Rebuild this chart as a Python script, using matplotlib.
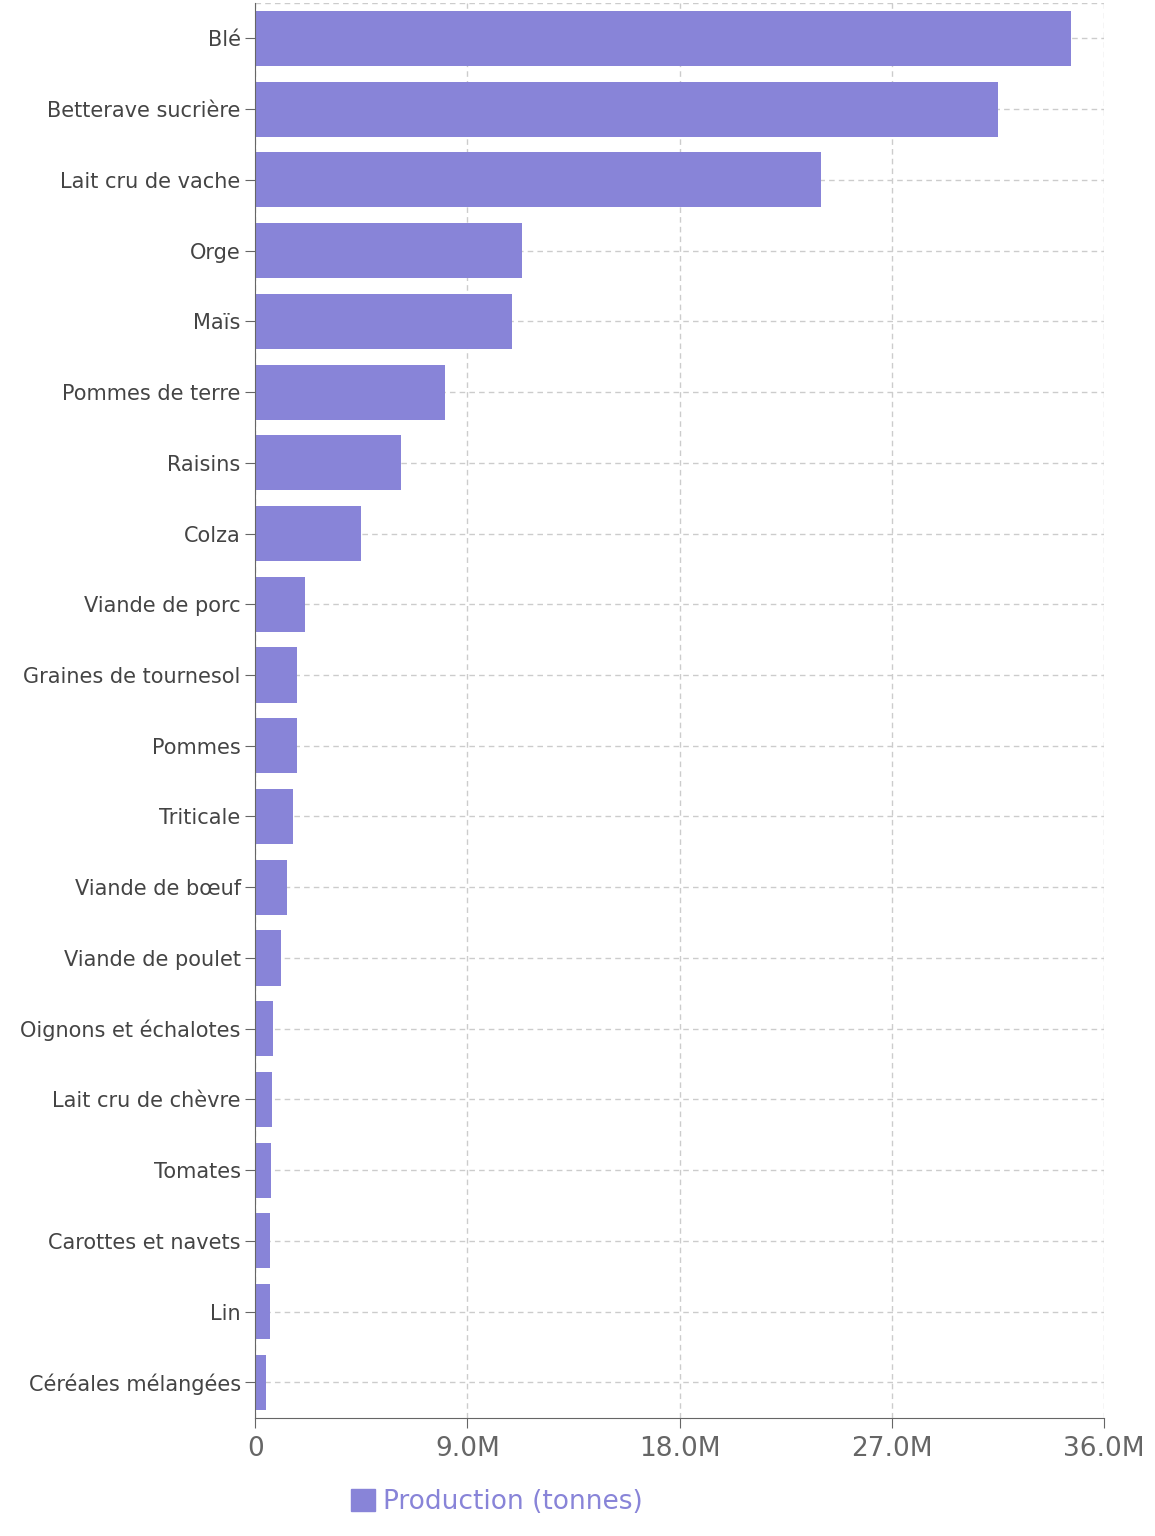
import matplotlib.pyplot as plt
from matplotlib.patches import Patch

crops = ["Blé", "Betterave sucrière", "Lait cru de vache", "Orge", "Maïs",
         "Pommes de terre", "Raisins", "Colza", "Viande de porc",
         "Graines de tournesol", "Pommes", "Triticale", "Viande de bœuf",
         "Viande de poulet", "Oignons et échalotes", "Lait cru de chèvre",
         "Tomates", "Carottes et navets", "Lin", "Céréales mélangées"]
production = [34.6, 31.5, 24.0, 11.3, 10.9, 8.06, 6.2, 4.5, 2.12, 1.78,
              1.75, 1.6, 1.36, 1.1, 0.76, 0.7, 0.68, 0.64, 0.63, 0.47]
xticks = [0, 9, 18, 27, 36]
xticklabels = ["0", "9.0M", "18.0M", "27.0M", "36.0M"]

color = "#8884d8"
fig = plt.figure(figsize=(11.55, 15.36), dpi=100)
ax = fig.add_axes([0.221, 0.077, 0.735, 0.921])

pos = list(range(len(crops)))
ax.barh(pos, production, height=0.78, color=color, zorder=2)
ax.set_ylim(len(crops) - 0.5, -0.5)
ax.set_xlim(0, 36)
ax.set_yticks(pos)
ax.set_yticklabels(crops, fontsize=15, color="#444444")
ax.set_xticks(xticks)
ax.set_xticklabels(xticklabels, fontsize=19, color="#666666")
ax.tick_params(axis="y", length=7, color="#666666")
ax.tick_params(axis="x", length=7, color="#666666", pad=6)

ax.grid(True, linestyle=(0, (4, 3)), color="#cccccc", linewidth=1, zorder=0)
ax.axhline(-0.5, linestyle=(0, (4, 3)), color="#cccccc", linewidth=1, zorder=0)
for s in ["top", "right"]:
    ax.spines[s].set_visible(False)
for s in ["left", "bottom"]:
    ax.spines[s].set_color("#666666")

leg = fig.legend(handles=[Patch(color=color, label="Production (tonnes)")],
                 loc="center", bbox_to_anchor=(0.43, 0.022), frameon=False,
                 fontsize=19, handlelength=0.9, handleheight=0.9, handletextpad=0.3)
for t in leg.get_texts():
    t.set_color(color)

fig.savefig("out.png", dpi=100)
